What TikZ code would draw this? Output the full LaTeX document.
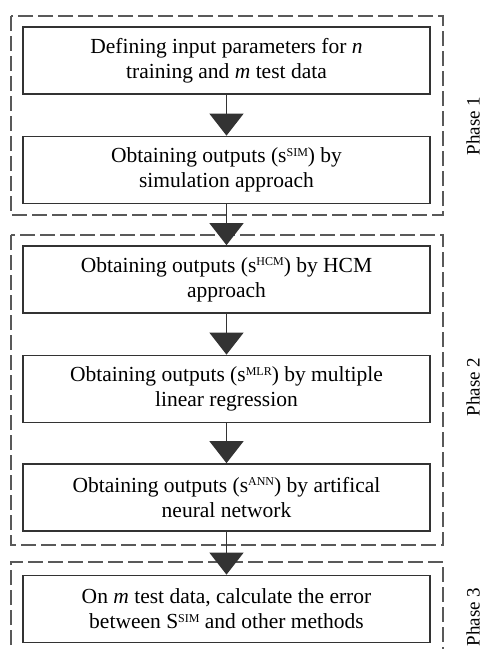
\documentclass[tikz,border=0pt]{standalone}
\usepackage{fontspec}
\setmainfont{Liberation Serif}
\usetikzlibrary{arrows.meta}
\newcommand{\upidx}[1]{\raisebox{6.5pt}{\fontsize{12}{12}\selectfont #1}}
\begin{document}
\begin{tikzpicture}[x=1pt,y=-1pt,
    stepbox/.style={draw=black!80,line width=1.7pt,minimum width=407pt,minimum height=67pt,
      inner sep=0pt,align=center,font=\fontsize{21.5}{25}\selectfont},
    frame/.style={draw=black!65,line width=1.6pt,dash pattern=on 15pt off 5pt},
    flow/.style={draw=black!80,line width=1.3pt,-{Triangle[width=34pt,length=22pt]}},
    phase/.style={rotate=90,font=\fontsize{19}{22}\selectfont}]
  \useasboundingbox (0,0) rectangle (483,649);
  % phase frames
  \draw[frame] (11,16) rectangle (443,215);
  \draw[frame] (11,235) rectangle (443,545);
  \draw[frame] (11,665) -- (11,562) -- (443,562) -- (443,665);
  \node[phase] (ph1) at (473,126) {Phase 1};
  \node[phase] (ph2) at (473,387) {Phase 2};
  \node[phase] (ph3) at (473,617) {Phase 3};
  % steps
  \node[stepbox] (def) at (226.5,60.5) {Defining input parameters for \textit{n}\\training and \textit{m} test data};
  \node[stepbox] (sim) at (226.5,170) {Obtaining outputs (s\upidx{SIM}) by\\simulation approach};
  \node[stepbox] (hcm) at (226.5,279.5) {Obtaining outputs (s\upidx{HCM}) by HCM\\approach};
  \node[stepbox] (mlr) at (226.5,389) {Obtaining outputs (s\upidx{MLR}) by multiple\\linear regression};
  \node[stepbox] (ann) at (226.5,497.5) {Obtaining outputs (s\upidx{ANN}) by artifical\\neural network};
  \node[stepbox] (err) at (226.5,609) {On \textit{m} test data, calculate the error\\between S\upidx{SIM} and other methods};
  \draw[flow] (def) -- (sim);
  \draw[flow] (sim) -- (hcm);
  \draw[flow] (hcm) -- (mlr);
  \draw[flow] (mlr) -- (ann);
  \draw[flow] (ann) -- (err);
\end{tikzpicture}
\end{document}
